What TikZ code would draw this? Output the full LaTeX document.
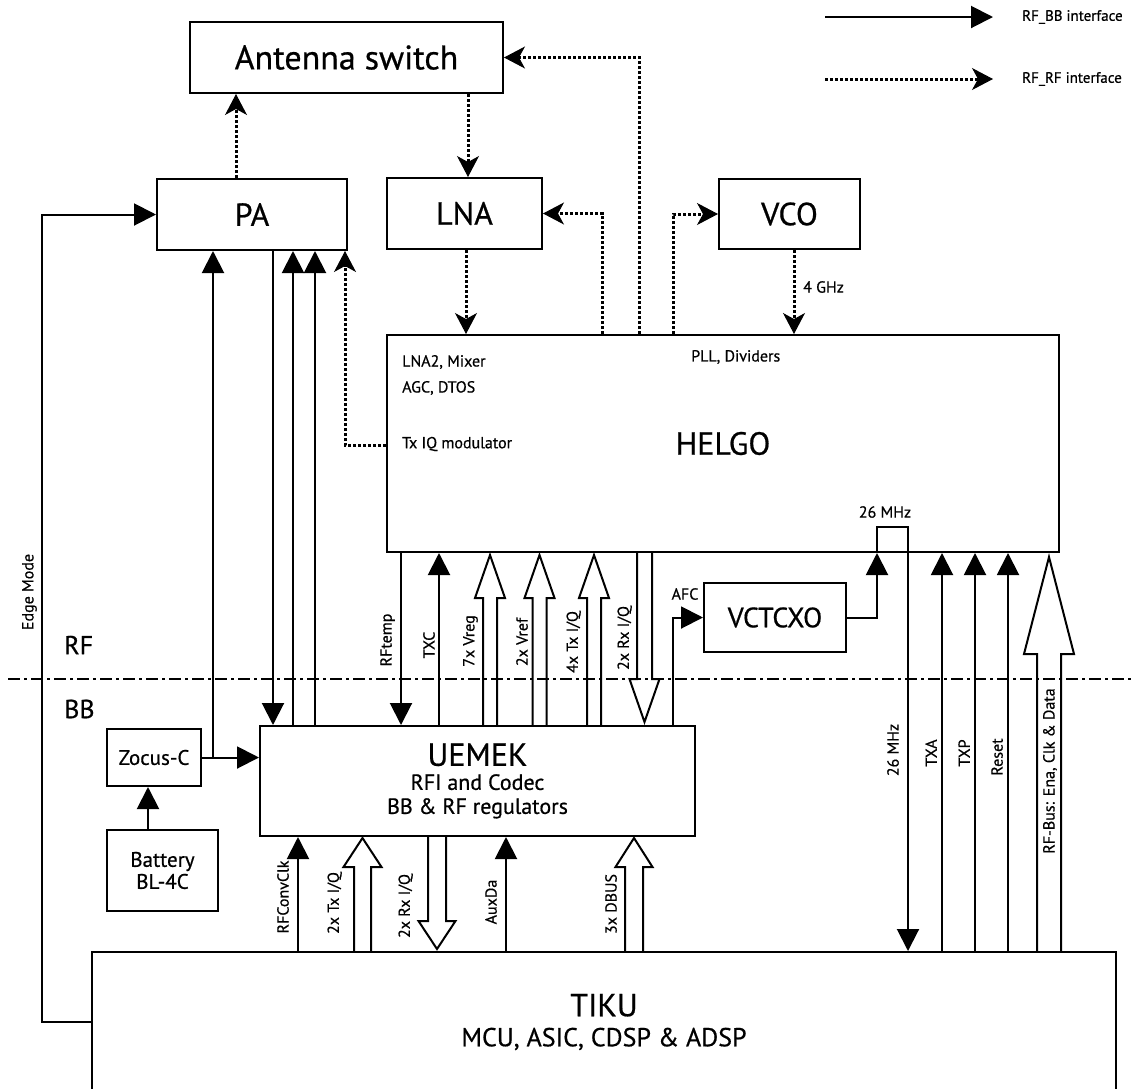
\documentclass[tikz,border=0pt]{standalone}
\usepackage{fontspec}
\setmainfont{PT Sans}[FakeBold=0.6]
\usetikzlibrary{arrows.meta}
\newcommand\hollowUp[6]{\draw[hol] (#1-#4,#2) -- (#1-#4,#3+#6) -- (#1-#5,#3+#6) -- (#1,#3) -- (#1+#5,#3+#6) -- (#1+#4,#3+#6) -- (#1+#4,#2);}
\newcommand\hollowDown[6]{\draw[hol] (#1-#4,#2) -- (#1-#4,#3-#6) -- (#1-#5,#3-#6) -- (#1,#3) -- (#1+#5,#3-#6) -- (#1+#4,#3-#6) -- (#1+#4,#2);}
\begin{document}
\begin{tikzpicture}[x=1pt,y=-1pt,
  box/.style={draw, line width=2pt, inner sep=0pt, font=\fontsize{32}{36}\selectfont},
  lbl/.style={inner sep=0pt, font=\fontsize{16}{18}\selectfont},
  vlbl/.style={lbl, rotate=90, anchor=south},
  sig/.style={line width=2pt, -{Triangle[length=22pt,width=22pt]}},
  rfl/.style={line width=3pt, dash pattern=on 3pt off 2pt, -{Stealth[length=21pt,width=22pt,inset=6pt,line width=1pt]}},
  hol/.style={line width=2pt, line join=miter},
  sepline/.style={line width=2pt, dash pattern=on 12pt off 4pt on 3pt off 4pt}]
\useasboundingbox (0,0) rectangle (1133,1088);

% boxes
\node[box, minimum width=313pt, minimum height=71pt, font=\fontsize{34}{36}\selectfont] (ant) at (346.5,57.5) {Antenna switch};
\node[box, minimum width=190pt, minimum height=71pt] (pa) at (252,214.5) {PA};
\node[box, minimum width=155pt, minimum height=71pt] (lna) at (464.5,213.5) {LNA};
\node[box, minimum width=141pt, minimum height=70pt] (vco) at (789.5,214) {VCO};
\node[box, minimum width=672pt, minimum height=217pt] (helgo) at (723,443.5) {HELGO};
\node[box, minimum width=142pt, minimum height=69pt, font=\fontsize{28}{32}\selectfont] (vctcxo) at (775,617.5) {VCTCXO};
\node[box, minimum width=435pt, minimum height=110pt, align=center, font=\fontsize{22}{24}\selectfont] (uemek) at (477.5,781) {{\fontsize{32}{24}\selectfont UEMEK}\\RFI and Codec\\BB \& RF regulators};
\node[box, minimum width=94pt, minimum height=57pt, font=\fontsize{21}{22}\selectfont] (zocus) at (154,757.5) {Zocus-C};
\node[box, minimum width=111pt, minimum height=81pt, align=center, font=\fontsize{21}{22}\selectfont] (battery) at (162.5,870.5) {Battery\\BL-4C};
\node[box, minimum width=1024pt, minimum height=140pt, align=center, font=\fontsize{26}{30}\selectfont] (tiku) at (604,1022) {{\fontsize{32}{30}\selectfont TIKU}\\MCU, ASIC, CDSP \& ADSP};

% texts inside HELGO and free labels
\node[lbl, anchor=west] (t1) at (402,362) {LNA2, Mixer};
\node[lbl, anchor=west] (t2) at (402,388) {AGC, DTOS};
\node[lbl, anchor=west] (t3) at (402,444) {Tx IQ modulator};
\node[lbl, anchor=west] (t4) at (691,357) {PLL, Dividers};
\node[lbl] (t5) at (885,512) {26 MHz};
\node[lbl, anchor=west] (t6) at (803,287) {4 GHz};
\node[lbl] (t7) at (685,594) {AFC};
\node[inner sep=0pt, anchor=west, font=\fontsize{26}{28}\selectfont] (rf) at (64,645) {RF};
\node[inner sep=0pt, anchor=west, font=\fontsize{26}{28}\selectfont] (bb) at (64,709) {BB};

% legend
\coordinate (l1s) at (825,17); \coordinate (l1e) at (993,17);
\coordinate (l2s) at (825,79); \coordinate (l2e) at (993,79);
\draw[sig] (l1s) -- (l1e);
\draw[rfl] (l2s) -- (l2e);
\node[inner sep=0pt, anchor=west, font=\fontsize{15}{17}\selectfont] (lg1) at (1022,17) {RF\_BB interface};
\node[inner sep=0pt, anchor=west, font=\fontsize{15}{17}\selectfont] (lg2) at (1022,79) {RF\_RF interface};

% RF-RF connectors
\draw[rfl] (236,0 |- pa.north) -- (236,0 |- ant.south);
\draw[rfl] (468,0 |- ant.south) -- (468,0 |- lna.north);
\draw[rfl] (466,0 |- lna.south) -- (466,0 |- helgo.north);
\draw[rfl] (602,0 |- helgo.north) |- (lna.east);
\draw[rfl] (639,0 |- helgo.north) |- (ant.east);
\draw[rfl] (673,0 |- helgo.north) |- (vco.west);
\draw[rfl] (794,0 |- vco.south) -- (794,0 |- helgo.north);
\draw[rfl] (helgo.west |- 0,445) -| (345,0 |- pa.south);

% RF-BB connectors
\draw[sig] (tiku.west) -- (42,0 |- tiku.west) |- (pa.west);
\draw[sig] (213,0 |- zocus.east) -- (213,0 |- pa.south);
\draw[sig] (zocus.east) -- (uemek.west |- zocus.east);
\draw[sig] (148,0 |- battery.north) -- (148,0 |- zocus.south);
\draw[sig] (273,0 |- pa.south) -- (273,0 |- uemek.north);
\draw[sig] (293,0 |- uemek.north) -- (293,0 |- pa.south);
\draw[sig] (315,0 |- uemek.north) -- (315,0 |- pa.south);
\draw[sig] (401,0 |- helgo.south) -- (401,0 |- uemek.north);
\draw[sig] (439,0 |- uemek.north) -- (439,0 |- helgo.south);
\hollowUp{490}{726}{555}{7}{15}{43}
\hollowUp{539.5}{726}{555}{7}{15}{43}
\hollowUp{594}{726}{555}{7}{15}{43}
\hollowDown{644.5}{552}{722}{7.5}{15}{43}
\draw[sig] (673,0 |- uemek.north) |- (vctcxo.west);
\draw[sig] (vctcxo.east) -| (877,0 |- helgo.south);
\draw[sig] (877,0 |- helgo.south) |- (908,527) -- (908,0 |- tiku.north);
\draw[sig] (942,0 |- tiku.north) -- (942,0 |- helgo.south);
\draw[sig] (975,0 |- tiku.north) -- (975,0 |- helgo.south);
\draw[sig] (1008,0 |- tiku.north) -- (1008,0 |- helgo.south);
\hollowUp{1049}{952}{557}{12}{25}{97}
\draw[sig] (298,0 |- tiku.north) -- (298,0 |- uemek.south);
\hollowUp{362.5}{952}{838}{8.5}{19}{29}
\hollowDown{437}{836}{949}{9}{18.5}{28}
\draw[sig] (506,0 |- tiku.north) -- (506,0 |- uemek.south);
\hollowUp{634}{952}{838}{9}{18.5}{29}

% connector labels
\node[vlbl] (v1) at (395,640) {RFtemp};
\node[vlbl] (v2) at (435,645) {TXC};
\node[vlbl] (v3) at (478,641) {7x Vreg};
\node[vlbl] (v4) at (528,642) {2x Vref};
\node[vlbl] (v5) at (581,642) {4x Tx I/Q};
\node[vlbl] (v6) at (632,638) {2x Rx I/Q};
\node[vlbl] (v7) at (289,897) {RFConvClk};
\node[vlbl] (v8) at (342,903) {2x Tx I/Q};
\node[vlbl] (v9) at (413,906) {2x Rx I/Q};
\node[vlbl] (v10) at (497,902) {AuxDa};
\node[vlbl] (v11) at (617,904) {3x DBUS};
\node[vlbl] (v12) at (899,750) {26 MHz};
\node[vlbl] (v13) at (937,753) {TXA};
\node[vlbl] (v14) at (970,753) {TXP};
\node[vlbl] (v15) at (1003,757) {Reset};
\node[lbl, rotate=90] (v16) at (1050,771) {RF-Bus: Ena, Clk \& Data};
\node[vlbl] (v17) at (37,592) {Edge Mode};

% RF / BB separator
\coordinate (sl) at (8,679); \coordinate (sr) at (1133,679);
\draw[sepline] (sl) -- (sr);
\end{tikzpicture}
\end{document}
